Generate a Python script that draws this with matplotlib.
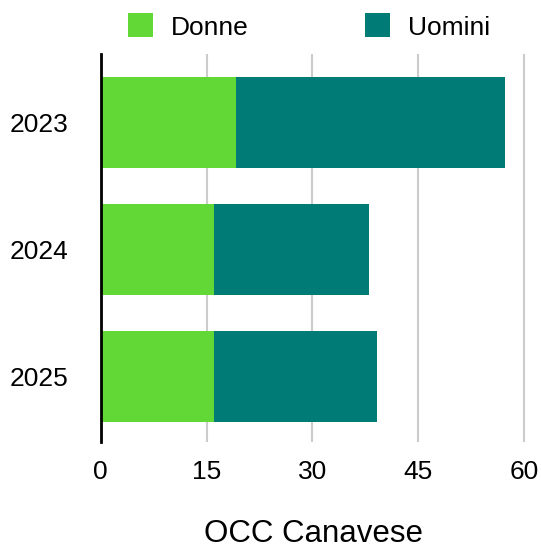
import matplotlib
matplotlib.use("Agg")
import matplotlib.pyplot as plt
from matplotlib.patches import Patch

categories = ["2023", "2024", "2025"]
donne = [19.2, 16, 16]
uomini = [38.1, 22, 23.2]
xticks = [0, 15, 30, 45, 60]
series_names = ["Donne", "Uomini"]
colors = ["#61D836", "#007B75"]
xlabel = "OCC Canavese"

plt.rcParams['font.family'] = ['Liberation Sans', 'DejaVu Sans']

W, H = 541, 550
fig = plt.figure(figsize=(W/100, H/100), dpi=100)
ax_l, ax_r = 100.7, 527
ax = fig.add_axes([ax_l/W, 1-442/H, (ax_r-ax_l)/W, (442-54)/H])

y = list(range(len(categories)))
ax.barh(y, donne, height=0.717, color=colors[0], zorder=3)
ax.barh(y, uomini, left=donne, height=0.717, color=colors[1], zorder=3)

scale = (524 - 100.7) / 60.0
ax.set_ylim(2.516, -0.539)
ax.set_xlim(0, (ax_r - ax_l) / scale)
ax.set_xticks(xticks)
ax.set_xticklabels([str(t) for t in xticks], fontsize=19)
ax.set_yticks(y)
ax.set_yticklabels(categories, fontsize=19)
ax.tick_params(axis='both', length=0)
ax.tick_params(axis='x', pad=13)
ax.tick_params(axis='y', pad=23)
ax.xaxis.grid(True, color="#CCCCCC", linewidth=1.5, zorder=0)
ax.set_axisbelow(True)
for s in ["top", "right", "bottom"]:
    ax.spines[s].set_visible(False)
ax.spines["left"].set_linewidth(2)
ax.spines["left"].set_color("black")
ax.spines["left"].set_zorder(4)

ax.set_xlabel(xlabel, fontsize=22.5, labelpad=25)

handles = [Patch(facecolor=c, edgecolor='none') for c in colors]
fig.legend(handles, series_names, loc='center left',
           bbox_to_anchor=(128/W, 1-26.5/H), ncol=2, frameon=False,
           fontsize=19, handlelength=0.95, handleheight=1.02,
           handletextpad=0.68, columnspacing=4.4, borderpad=0,
           borderaxespad=0)

fig.savefig("out.png", dpi=100)
